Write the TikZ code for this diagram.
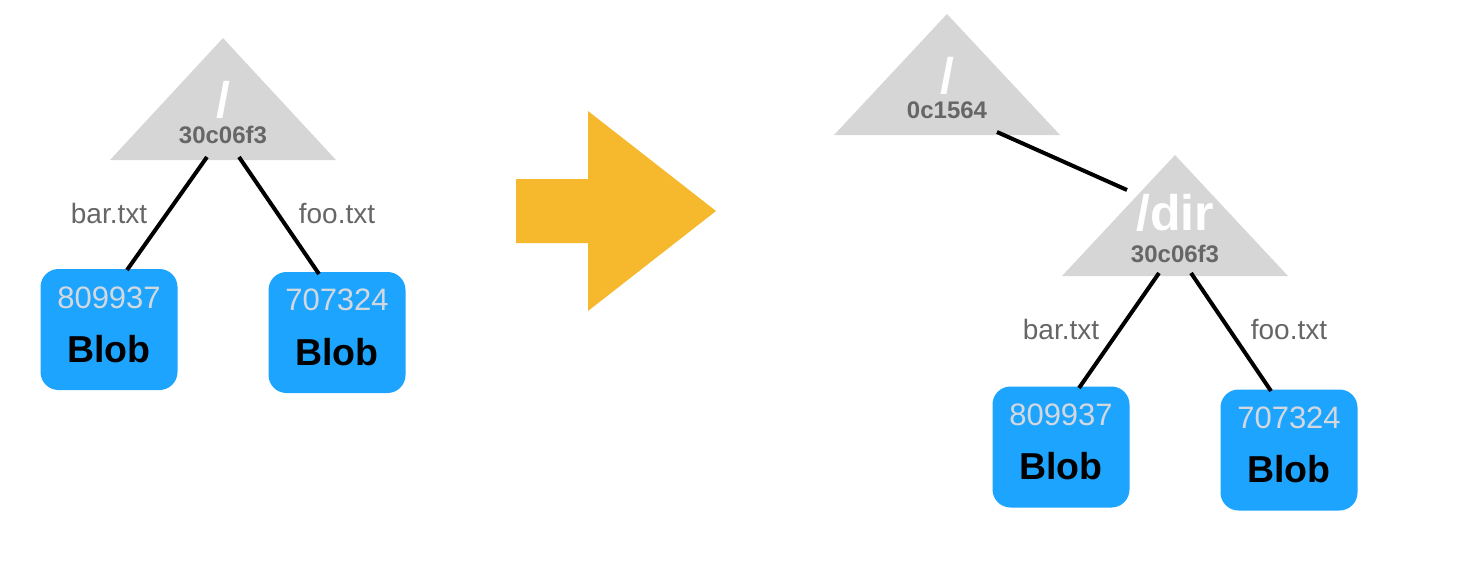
\documentclass[tikz,border=0pt]{standalone}
\usepackage{fontspec}
\setmainfont{Liberation Sans}
\begin{document}
\begin{tikzpicture}[x=1pt,y=-1pt,
  tri/.style={fill=trigray},
  blob/.style={fill=blobblue, rounded corners=18pt, minimum width=137pt, minimum height=121pt, inner sep=0pt},
  hashnum/.style={text=numgray, font=\fontsize{31}{31}\selectfont, anchor=base, inner sep=0pt},
  blobtxt/.style={text=black, font=\fontsize{37.5}{37.5}\selectfont\bfseries, anchor=base, inner sep=0pt},
  dirname/.style={text=white, font=\fontsize{50}{50}\selectfont\bfseries, anchor=base, inner sep=0pt},
  treehash/.style={text=labgray, font=\fontsize{24}{24}\selectfont\bfseries, anchor=base, inner sep=0pt},
  edgelab/.style={text=labgray, font=\fontsize{28}{28}\selectfont, anchor=base, inner sep=0pt},
  link/.style={line width=4pt, black}
]
\definecolor{trigray}{HTML}{D6D6D6}
\definecolor{blobblue}{HTML}{1DA4FE}
\definecolor{numgray}{HTML}{D2D8DE}
\definecolor{labgray}{HTML}{666666}
\definecolor{arroworange}{HTML}{F6B82C}
\useasboundingbox (0,0) rectangle (1472,566);

% ---------- left tree ----------
\fill[tri] (223,38) -- (336,160) -- (110,160) -- cycle;
\node[dirname] (lroot) at (223,117) {/};
\node[treehash] (lroothash) at (223,143) {30c06f3};

\node[blob] (lblobA) at (109,329.5) {};
\node[hashnum] (lnumA) at (109,308) {809937};
\node[blobtxt] (ltxtA) at (109,362) {Blob};
\node[blob] (lblobB) at (337,332.5) {};
\node[hashnum] (lnumB) at (337,310) {707324};
\node[blobtxt] (ltxtB) at (337,365) {Blob};

\coordinate (lrA) at (207,157);
\coordinate (lrB) at (239,157);
\coordinate (lbA) at (127,270);
\coordinate (lbB) at (319,274);
\draw[link] (lrA) -- (lbA);
\draw[link] (lrB) -- (lbB);
\node[edgelab] (llabA) at (109,223) {bar.txt};
\node[edgelab] (llabB) at (337,223) {foo.txt};

% ---------- arrow ----------
\fill[arroworange] (516,179) -- (588,179) -- (588,111) -- (716,211) -- (588,311) -- (588,243) -- (516,243) -- cycle;

% ---------- right tree ----------
\fill[tri] (947,14) -- (1060,135) -- (834,135) -- cycle;
\node[dirname] (rroot) at (947,93) {/};
\node[treehash] (rroothash) at (947,118) {0c1564};

\fill[tri] (1175,155) -- (1288,276) -- (1062,276) -- cycle;
\node[dirname] (rdir) at (1175,230) {/dir};
\node[treehash] (rdirhash) at (1175,262) {30c06f3};

\coordinate (rrE) at (997,132);
\coordinate (rdE) at (1127,190);
\draw[link] (rrE) -- (rdE);

\node[blob] (rblobA) at (1061,447) {};
\node[hashnum] (rnumA) at (1061,425) {809937};
\node[blobtxt] (rtxtA) at (1061,479) {Blob};
\node[blob] (rblobB) at (1289,450) {};
\node[hashnum] (rnumB) at (1289,428) {707324};
\node[blobtxt] (rtxtB) at (1289,482) {Blob};

\coordinate (rdA) at (1159,273);
\coordinate (rdB) at (1191,273);
\coordinate (rbA) at (1079,388);
\coordinate (rbB) at (1271,391);
\draw[link] (rdA) -- (rbA);
\draw[link] (rdB) -- (rbB);
\node[edgelab] (rlabA) at (1061,339) {bar.txt};
\node[edgelab] (rlabB) at (1289,339) {foo.txt};
\end{tikzpicture}
\end{document}
